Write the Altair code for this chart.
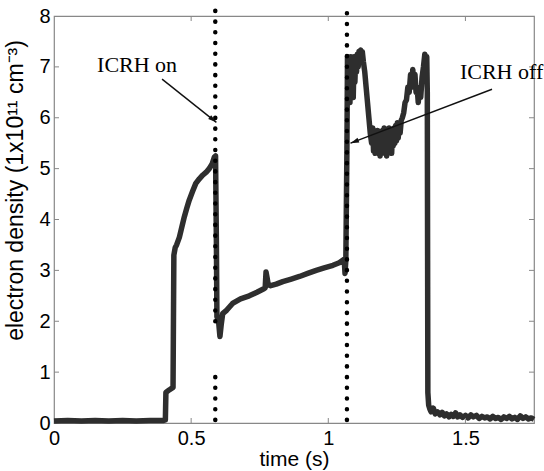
import altair as alt
import pandas as pd

# ---- data ----
time_s = [0.000, 0.05, 0.10, 0.15, 0.20, 0.25, 0.30, 0.35, 0.40, 0.406, 0.408, 0.42, 0.434, 0.437,
          0.442, 0.447, 0.457, 0.466, 0.475, 0.484, 0.493, 0.505, 0.517, 0.53, 0.542, 0.555, 0.566,
          0.577, 0.585, 0.589, 0.592, 0.594, 0.600, 0.605, 0.610, 0.615, 0.63, 0.651, 0.68, 0.712,
          0.74, 0.765, 0.770, 0.773, 0.777, 0.781, 0.79, 0.81, 0.834, 0.865, 0.895, 0.925, 0.956,
          0.985, 1.017, 1.04, 1.058, 1.061, 1.064, 1.068, 1.070,
          1.073, 1.076, 1.079, 1.082, 1.085, 1.088, 1.091, 1.094, 1.097, 1.100, 1.103, 1.106, 1.109,
          1.112, 1.115, 1.118, 1.121, 1.124, 1.128, 1.133, 1.138, 1.143, 1.148, 1.153, 1.158, 1.162,
          1.165, 1.168, 1.171, 1.174, 1.177, 1.180, 1.183, 1.186, 1.189, 1.192, 1.195, 1.198, 1.201,
          1.204, 1.207, 1.210, 1.213, 1.216, 1.219, 1.222, 1.225, 1.228, 1.231, 1.234, 1.237, 1.240,
          1.243, 1.246, 1.249, 1.252, 1.255, 1.258, 1.262, 1.266, 1.270, 1.275, 1.280, 1.285, 1.290,
          1.295, 1.300, 1.304, 1.308, 1.312, 1.316, 1.320, 1.324, 1.328, 1.332, 1.337, 1.342, 1.347,
          1.352, 1.356, 1.359, 1.361, 1.363, 1.366, 1.37, 1.375, 1.383, 1.39, 1.398, 1.407, 1.415,
          1.423, 1.431, 1.44, 1.448, 1.456, 1.464, 1.472, 1.48, 1.49, 1.50, 1.51, 1.52, 1.529, 1.54,
          1.55, 1.56, 1.57, 1.58, 1.59, 1.60, 1.61, 1.62, 1.63, 1.64, 1.65, 1.66, 1.67, 1.68, 1.69,
          1.70, 1.71, 1.72, 1.73, 1.74, 1.75]
density = [0.04, 0.05, 0.04, 0.05, 0.04, 0.05, 0.04, 0.05, 0.05, 0.06, 0.6, 0.65, 0.7, 3.3,
           3.45, 3.5, 3.65, 3.85, 4.05, 4.22, 4.38, 4.55, 4.71, 4.8, 4.87, 4.93, 5.0,
           5.1, 5.23, 5.25, 3.6, 2.09, 2.0, 1.7, 1.95, 2.15, 2.22, 2.35, 2.44, 2.5,
           2.57, 2.64, 2.66, 2.97, 2.85, 2.72, 2.7, 2.73, 2.78, 2.83, 2.88, 2.94, 3.0,
           3.05, 3.1, 3.15, 3.22, 2.94, 3.2, 5.4, 7.2,
           6.5, 7.15, 6.3, 7.2, 6.6, 7.1, 6.4, 7.2, 6.7, 7.2, 6.9, 7.25, 7.0,
           7.3, 7.1, 7.33, 7.2, 7.3, 7.1, 6.9, 6.6, 6.3, 6.0, 5.7, 5.5, 5.8,
           5.35, 5.75, 5.3, 5.7, 5.4, 5.75, 5.3, 5.7, 5.25, 5.65, 5.35, 5.75, 5.4,
           5.8, 5.3, 5.7, 5.25, 5.75, 5.4, 5.8, 5.35, 5.75, 5.3, 5.7, 5.45, 5.8,
           5.5, 5.85, 5.55, 5.9, 5.6, 5.85, 5.7, 5.95, 6.0, 6.1, 6.3, 6.35, 6.6,
           6.5, 6.85, 6.6, 6.95, 6.7, 6.85, 6.5, 6.6, 6.3, 6.55, 6.4, 6.8, 7.0,
           7.25, 7.1, 7.2, 6.5, 0.6, 0.35, 0.28, 0.22, 0.29, 0.18, 0.22, 0.16, 0.21,
           0.14, 0.18, 0.12, 0.17, 0.13, 0.2, 0.12, 0.16, 0.11, 0.15, 0.1, 0.16, 0.12, 0.15,
           0.09, 0.13, 0.1, 0.12, 0.08, 0.13, 0.09, 0.11, 0.07, 0.12, 0.09, 0.13, 0.08, 0.11, 0.07,
           0.14, 0.09, 0.12, 0.08, 0.1, 0.07]

# dotted markers of ICRH switching (segments, the first one is interrupted in the figure)
marker_t = [0.588, 0.588, 1.068]
marker_lo = [0.06, 2.0, 0.06]
marker_hi = [1.0, 8.12, 8.12]

# annotations
label_text = ["ICRH on", "ICRH off"]
label_t = [0.157, 1.48]
label_n = [6.9, 6.76]
arrow_t0 = [0.394, 1.597]
arrow_n0 = [6.76, 6.56]
arrow_t1 = [0.592, 1.081]
arrow_n1 = [5.91, 5.50]
arrow_angle = [128, 249]

x_ticks = [0, 0.5, 1, 1.5]
y_ticks = [0, 1, 2, 3, 4, 5, 6, 7, 8]

W, H = 480, 407
GREY = "#888888"

sig = pd.DataFrame({"t": time_s, "n": density})
mk = pd.DataFrame({"t": marker_t, "lo": marker_lo, "hi": marker_hi})
lab = pd.DataFrame({"text": label_text, "t": label_t, "n": label_n})
arr = pd.DataFrame({"t0": arrow_t0, "n0": arrow_n0, "t1": arrow_t1, "n1": arrow_n1, "ang": arrow_angle})
xt = pd.DataFrame({"t": x_ticks[1:]})
yt = pd.DataFrame({"n": y_ticks[1:-1]})

xs = alt.Scale(domain=[0, 1.75], nice=False, zero=False)
ys = alt.Scale(domain=[0, 8], nice=False)

x_axis = alt.Axis(values=x_ticks, format="~g", title="time (s)", grid=False, ticks=False, tickSize=0,
                  domain=False, labelPadding=5, titlePadding=0, labelFlush=False)
y_axis = alt.Axis(values=y_ticks, format="~g", title="electron density (1x10¹¹ cm⁻³)", grid=False,
                  ticks=False, tickSize=0, domain=False, labelPadding=4, titleX=-27, titleY=174,
                  titleFontSize=23)

line = alt.Chart(sig).mark_line(color="#2e2e2e", strokeWidth=5.5, strokeJoin="round").encode(
    x=alt.X("t:Q", scale=xs, axis=x_axis),
    y=alt.Y("n:Q", scale=ys, axis=y_axis),
)

dots = alt.Chart(mk).mark_rule(color="black", strokeWidth=4.5, strokeCap="round",
                               strokeDash=[0.1, 10.6]).encode(
    x="t:Q", y="lo:Q", y2="hi:Q")

arrow_lines = alt.Chart(arr).mark_rule(color="#111111", strokeWidth=1.4).encode(
    x="t0:Q", y="n0:Q", x2="t1:Q", y2="n1:Q")

arrow_heads = alt.Chart(arr).mark_point(shape="M0,0L-0.55,1.9L0.55,1.9Z", filled=True,
                                        color="#111111", opacity=1, size=80).encode(
    x="t1:Q", y="n1:Q", angle=alt.Angle("ang:Q", scale=None))

labels = alt.Chart(lab).mark_text(font="Liberation Serif", fontSize=22, align="left",
                                  baseline="alphabetic", color="black").encode(
    x="t:Q", y="n:Q", text="text:N")

tick_b = alt.Chart(xt).mark_rule(color=GREY, strokeWidth=1).encode(
    x="t:Q", y=alt.value(H), y2=alt.value(H - 5))
tick_t = alt.Chart(xt).mark_rule(color=GREY, strokeWidth=1).encode(
    x="t:Q", y=alt.value(0), y2=alt.value(5))
tick_l = alt.Chart(yt).mark_rule(color=GREY, strokeWidth=1).encode(
    y="n:Q", x=alt.value(0), x2=alt.value(5))
tick_r = alt.Chart(yt).mark_rule(color=GREY, strokeWidth=1).encode(
    y="n:Q", x=alt.value(W), x2=alt.value(W - 5))

chart = alt.layer(line, tick_b, tick_t, tick_l, tick_r, dots, arrow_lines, arrow_heads, labels).properties(
    width=W, height=H,
    autosize=alt.AutoSizeParams(type="none"),
    padding={"left": 54, "top": 16, "right": 10, "bottom": 48},
    background="white",
).configure_view(stroke=GREY, strokeWidth=1.2).configure_axis(
    labelFont="Liberation Sans", titleFont="Liberation Sans", labelFontSize=20, titleFontSize=21,
    labelColor="black", titleColor="black", titleFontWeight="normal",
)

chart.save("out.html", embed_options={"renderer": "svg", "actions": False})
